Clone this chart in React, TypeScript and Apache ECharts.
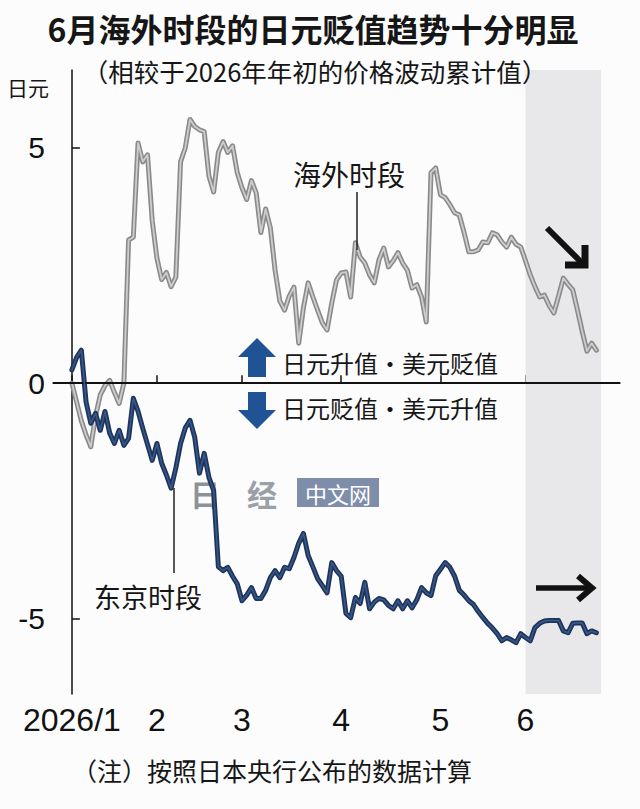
import React, { useEffect, useRef } from 'react';
import * as echarts from 'echarts';

// x axis: trading-day index since start of 2026
const monthTickIndex = [0, 18, 36, 57, 78, 96];
const monthLabels = ['2026/1', '2', '3', '4', '5', '6'];
const yTicks = [-5, 0, 5];
const juneShade = [96, 112];

// cumulative price change vs start of 2026 (yen), overseas hours
const overseas = [
  0, -0.4, -0.8, -1.1, -1.35, -0.7, -0.25, -0.05, 0.06, -0.2,
  -0.43, 0.0, 3.04, 3.1, 5.1, 4.7, 4.85, 3.45, 2.65, 2.2,
  2.35, 2.05, 2.25, 4.7, 5.0, 5.6, 5.45, 5.38, 5.34, 4.4,
  4.06, 4.9, 5.13, 4.9, 5.04, 4.47, 4.15, 3.9, 4.3, 4.04,
  3.2, 3.7, 3.3, 2.4, 1.75, 1.55, 1.85, 2.04, 0.85, 1.6,
  2.13, 1.83, 1.55, 1.28, 1.13, 1.7, 2.19, 2.34, 2.36, 1.83,
  2.98, 2.68, 2.55, 2.3, 2.13, 2.62, 2.87, 2.47, 2.6, 2.77,
  2.55, 2.4, 2.02, 2.09, 1.83, 1.3, 4.47, 4.57, 4.0, 3.94,
  3.79, 3.62, 3.57, 3.2, 2.79, 2.79, 2.83, 3.0, 2.98, 3.19,
  3.15, 3.0, 2.89, 3.1, 2.95, 2.89, 2.6, 2.3, 2.05, 1.83,
  1.87, 1.65, 1.49, 1.85, 2.23, 2.1, 1.98, 1.55, 1.1, 0.68,
  0.85, 0.7,
];

// cumulative price change vs start of 2026 (yen), Tokyo hours
const tokyo = [
  0.28, 0.55, 0.7, -0.4, -0.85, -0.64, -1.0, -0.6, -1.06, -1.28,
  -1.0, -1.32, -1.17, -0.32, -0.6, -0.96, -1.3, -1.64, -1.28, -1.7,
  -1.95, -2.23, -1.8, -1.28, -0.95, -0.79, -1.15, -1.91, -1.49, -2.0,
  -2.28, -3.9, -3.98, -3.91, -4.1, -4.26, -4.62, -4.5, -4.34, -4.57,
  -4.57, -4.4, -4.13, -3.98, -4.13, -3.91, -3.94, -3.7, -3.4, -3.19,
  -3.66, -3.9, -4.15, -4.3, -4.45, -3.81, -3.98, -4.1, -4.89, -4.98,
  -4.55, -4.68, -4.23, -4.79, -4.65, -4.57, -4.6, -4.72, -4.79, -4.62,
  -4.79, -4.62, -4.77, -4.6, -4.34, -4.45, -4.51, -4.09, -3.95, -3.81,
  -3.91, -4.1, -4.4, -4.5, -4.62, -4.7, -4.85, -4.98, -5.1, -5.2,
  -5.32, -5.47, -5.4, -5.45, -5.51, -5.32, -5.4, -5.47, -5.19, -5.1,
  -5.05, -5.04, -5.04, -5.04, -5.26, -5.3, -5.1, -5.09, -5.09, -5.32,
  -5.26, -5.3,
];

const CJK = '"Noto Sans CJK SC", "Noto Sans", sans-serif';
const NUM = '"Liberation Sans Narrow", "Liberation Sans", "Roboto", sans-serif';

function txt(text: string, x: number, y: number, size: number, opts: any = {}) {
  return {
    type: 'text',
    x,
    y,
    z: opts.z ?? 100,
    style: {
      text,
      font: `${opts.weight || 'normal'} ${size}px ${opts.family || CJK}`,
      fill: opts.fill || '#161616',
      textAlign: opts.align || 'center',
      textVerticalAlign: 'middle',
      align: opts.align || 'center',
      verticalAlign: 'middle',
    },
  };
}

export default function App() {
  const ref = useRef<HTMLDivElement>(null);

  useEffect(() => {
    const chart = echarts.init(ref.current!, null, { renderer: 'svg' });
    const pairs = (arr: number[]) => arr.map((v, i) => [i, v]);

    const option: any = {
      animation: false,
      backgroundColor: '#fcfcfd',
      grid: { left: 53, right: 20, top: 70, bottom: 115, containLabel: false },
      xAxis: {
        type: 'value',
        min: -4,
        max: 116,
        axisLine: { show: true, lineStyle: { color: '#111', width: 1.5 } },
        axisTick: {
          show: true,
          inside: true,
          length: 8,
          customValues: monthTickIndex,
          lineStyle: { color: '#111', width: 1.5 },
        },
        axisLabel: {
          show: true,
          customValues: monthTickIndex,
          formatter: (v: number) => monthLabels[monthTickIndex.indexOf(Math.round(v))] ?? '',
          margin: 10,
          fontSize: 32,
          fontFamily: NUM,
          color: '#111',
        },
        splitLine: { show: false },
      },
      yAxis: {
        type: 'value',
        min: -6.6,
        max: 6.65,
        axisLine: { show: true, lineStyle: { color: '#111', width: 1.5 } },
        axisTick: {
          show: true,
          inside: true,
          length: 8,
          customValues: yTicks,
          lineStyle: { color: '#111', width: 1.5 },
        },
        axisLabel: {
          show: true,
          customValues: yTicks,
          margin: 8,
          fontSize: 30,
          fontFamily: NUM,
          color: '#111',
        },
        splitLine: { show: false },
      },
      series: [
        {
          type: 'line',
          data: pairs(overseas),
          showSymbol: false,
          z: 2,
          lineStyle: { color: '#8a8a8a', width: 5, join: 'round', cap: 'round' },
          markArea: {
            silent: true,
            itemStyle: { color: '#e8e8eb' },
            data: [[{ xAxis: juneShade[0] }, { xAxis: juneShade[1] }]],
          },
        },
        {
          type: 'line',
          data: pairs(overseas),
          showSymbol: false,
          z: 3,
          lineStyle: { color: '#cdcdcd', width: 1.8, join: 'round', cap: 'round' },
        },
        {
          type: 'line',
          data: pairs(tokyo),
          showSymbol: false,
          z: 4,
          lineStyle: { color: '#1e345c', width: 5, join: 'round', cap: 'round' },
        },
        {
          type: 'line',
          data: pairs(tokyo),
          showSymbol: false,
          z: 5,
          lineStyle: { color: '#385888', width: 1.6, join: 'round', cap: 'round' },
          markLine: {
            silent: true,
            symbol: ['none', 'none'],
            label: { show: false },
            lineStyle: { color: '#111', width: 1.8, type: 'solid' },
            data: [{ yAxis: 0 }],
          },
        },
      ],
      graphic: [
        // watermark
        txt('日', 205, 493, 30, { weight: 'bold', fill: '#8d9299', z: 1 }),
        txt('经', 262, 493, 30, { weight: 'bold', fill: '#9ba0a7', z: 1 }),
        {
          type: 'rect',
          z: 1,
          shape: { x: 297, y: 478, width: 82, height: 29 },
          style: { fill: '#7d8daa' },
        },
        txt('中文网', 338, 493, 22, { fill: '#ffffff', z: 1 }),

        // titles
        txt('6月海外时段的日元贬值趋势十分明显', 313, 28, 32, { weight: 'bold' }),
        txt('（相较于2026年年初的价格波动累计值）', 315, 70, 25.5),
        txt('日元', 28, 87, 21),

        // series labels
        txt('海外时段', 349, 174, 28),
        {
          type: 'line',
          z: 100,
          shape: { x1: 357, y1: 192, x2: 357, y2: 250 },
          style: { stroke: '#222', lineWidth: 1.5 },
        },
        txt('东京时段', 148, 596, 27),
        {
          type: 'line',
          z: 100,
          shape: { x1: 174, y1: 488, x2: 174, y2: 573 },
          style: { stroke: '#222', lineWidth: 1.5 },
        },

        // direction legend
        {
          type: 'polygon',
          z: 100,
          shape: {
            points: [[257, 338], [276, 357], [266, 357], [266, 377], [248, 377], [248, 357], [238, 357]],
          },
          style: { fill: '#1f5393' },
        },
        {
          type: 'polygon',
          z: 100,
          shape: {
            points: [[248, 392], [266, 392], [266, 410], [276, 410], [257, 429], [238, 410], [248, 410]],
          },
          style: { fill: '#1f5393' },
        },
        txt('日元升值・美元贬值', 282, 362, 24, { align: 'left' }),
        txt('日元贬值・美元升值', 282, 407, 24, { align: 'left' }),

        // trend arrows
        {
          type: 'line',
          z: 100,
          shape: { x1: 547, y1: 228, x2: 582, y2: 263 },
          style: { stroke: '#111', lineWidth: 6 },
        },
        {
          type: 'polyline',
          z: 100,
          shape: { points: [[565, 265], [585, 265], [585, 245]] },
          style: { stroke: '#111', lineWidth: 7, fill: null, lineJoin: 'miter' },
        },
        {
          type: 'line',
          z: 100,
          shape: { x1: 536, y1: 588, x2: 590, y2: 588 },
          style: { stroke: '#111', lineWidth: 5.5 },
        },
        {
          type: 'polyline',
          z: 100,
          shape: { points: [[578, 576], [592, 588], [578, 600]] },
          style: { stroke: '#111', lineWidth: 6, fill: null, lineJoin: 'miter' },
        },

        // note
        txt('（注）按照日本央行公布的数据计算', 72, 770, 25, { align: 'left' }),
      ],
    };

    chart.setOption(option);
    return () => chart.dispose();
  }, []);

  return (
    <div
      ref={ref}
      style={{ position: 'absolute', left: 0, top: 0, width: 640, height: 809 }}
    />
  );
}
